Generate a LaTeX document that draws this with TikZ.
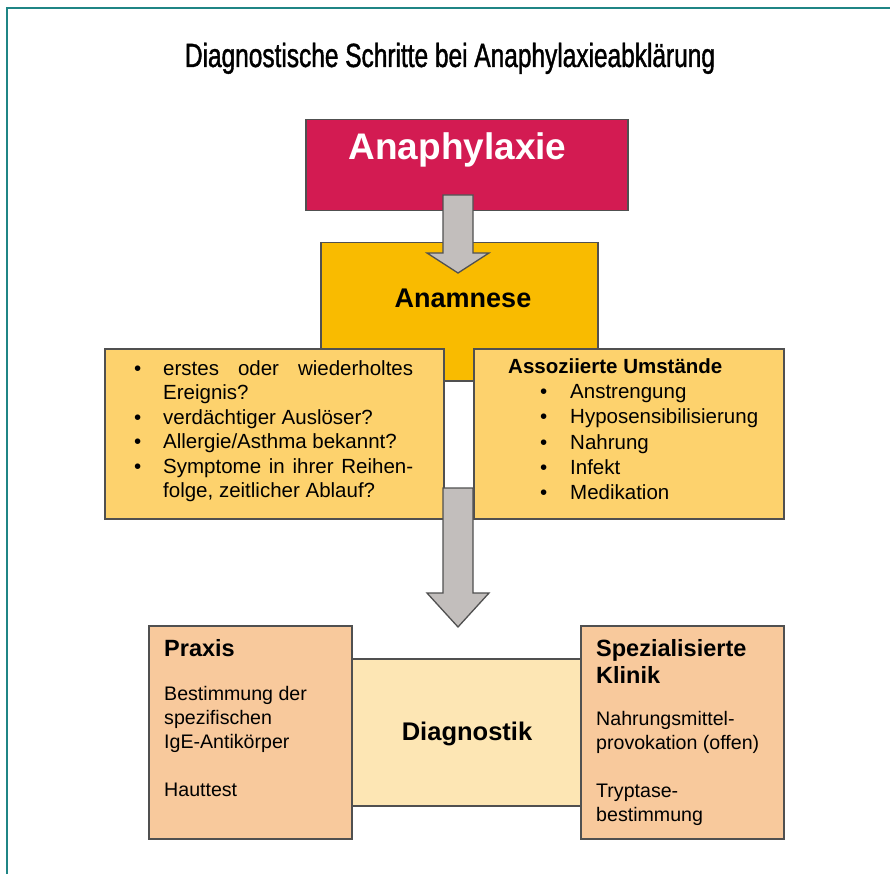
\documentclass[tikz,border=0pt]{standalone}
\usepackage{fontspec}
\setmainfont{Liberation Sans}
\newfontfamily\titlefont[FakeStretch=0.73,FakeBold=1.2]{Liberation Sans}
\usepackage{array}
\usetikzlibrary{calc}

\definecolor{rahmen}{HTML}{1F8585}
\definecolor{karmin}{HTML}{D31B52}
\definecolor{gelb}{HTML}{F9BB00}
\definecolor{hellgelb}{HTML}{FDD26D}
\definecolor{pfirsich}{HTML}{F8C99C}
\definecolor{creme}{HTML}{FDE6B4}
\definecolor{grau}{HTML}{C2BEBC}
\definecolor{kante}{HTML}{505050}

% block arrow: start, tip, head length
\newcommand\blockpfeil[3]{%
  \draw[pfeil] ($(#1)+(-15,0)$) -- ($(#1)+(15,0)$) -- ($(#2)+(15,-#3)$)
    -- ($(#2)+(31,-#3)$) -- (#2) -- ($(#2)+(-31,-#3)$) -- ($(#2)+(-15,-#3)$) -- cycle;}

\begin{document}
\begin{tikzpicture}[x=1pt, y=-1pt,
  kasten/.style={rectangle, draw=kante, line width=1.5pt, inner sep=0pt,
                 anchor=north west},
  txt/.style={inner sep=0pt, anchor=north west},
  pfeil/.style={fill=grau, draw=kante, line width=1.3pt, line join=miter}
]
\useasboundingbox (0,0) rectangle (890,874);
\fill[white] (0,0) rectangle (890,874);
\draw[rahmen, line width=2pt] (7,874) -- (7,8) -- (890,8);

\node[font=\titlefont\fontsize{33.5}{40}\selectfont, anchor=base] (titel)
  at (450,67) {Diagnostische Schritte bei Anaphylaxieabklärung};

% boxes
\node[kasten, fill=karmin, minimum width=322, minimum height=91] (anaph) at (305,119) {};
\node[kasten, fill=gelb, minimum width=277, minimum height=138] (anam) at (320,242) {};
\node[kasten, fill=hellgelb, minimum width=339, minimum height=170] (fragen) at (104,348) {};
\node[kasten, fill=hellgelb, minimum width=310, minimum height=170] (umst) at (473,348) {};
\node[kasten, fill=creme, minimum width=229, minimum height=147] (diag) at (351,658) {};
\node[kasten, fill=pfirsich, minimum width=203, minimum height=213] (praxis) at (148,625) {};
\node[kasten, fill=pfirsich, minimum width=203, minimum height=213] (klinik) at (580,625) {};

\node[white, font=\bfseries\fontsize{37}{44}\selectfont, anchor=base] (anaph-t)
  at (457.5,160) {Anaphylaxie};
\node[font=\bfseries\fontsize{27}{32}\selectfont, anchor=base] (anam-t)
  at (463,307) {Anamnese};
\node[font=\bfseries\fontsize{25.5}{30}\selectfont, anchor=base] (diag-t)
  at (467,740) {Diagnostik};

% lists
\node[txt, font=\fontsize{20.5}{24.4}\selectfont] (fragen-t) at (134,358.2) {%
  \begin{tabular}{@{}p{29pt}@{}p{250pt}@{}}
  \textbullet & erstes oder wiederholtes\linebreak Ereignis?\\
  \textbullet & verdächtiger Auslöser?\\
  \textbullet & Allergie/Asthma bekannt?\\
  \textbullet & Symptome in ihrer Reihen-\linebreak folge, zeitlicher Ablauf?
  \end{tabular}};
\node[txt, font=\fontsize{20.5}{25.2}\selectfont] (umst-t) at (508,355.7) {%
  \begin{tabular}{@{}p{62pt}@{}l@{}}
  \multicolumn{2}{@{}l@{}}{\bfseries Assoziierte Umstände}\\
  \hspace{32pt}\textbullet & Anstrengung\\
  \hspace{32pt}\textbullet & Hyposensibilisierung\\
  \hspace{32pt}\textbullet & Nahrung\\
  \hspace{32pt}\textbullet & Infekt\\
  \hspace{32pt}\textbullet & Medikation
  \end{tabular}};

% bottom texts
\node[txt, font=\fontsize{19.6}{24}\selectfont] (praxis-t) at (164,639.2) {%
  \begin{tabular}{@{}l@{}}
  {\fontsize{23.5}{24}\bfseries Praxis}\\[20pt]
  Bestimmung der\\
  spezifischen\\
  IgE-Antikörper\\[24pt]
  Hauttest
  \end{tabular}};
\node[txt, font=\fontsize{19.6}{24}\selectfont] (klinik-t) at (596,639.2) {%
  \begin{tabular}{@{}l@{}}
  {\fontsize{23.5}{24}\bfseries Spezialisierte}\\[3pt]
  {\fontsize{23.5}{24}\bfseries Klinik}\\[18pt]
  Nahrungsmittel-\\
  provokation (offen)\\[24pt]
  Tryptase-\\
  bestimmung
  \end{tabular}};

% arrows
\coordinate (p1a) at (458,195);
\coordinate (p1b) at (458,273);
\coordinate (p2a) at (458,488);
\coordinate (p2b) at (458,627);
\blockpfeil{p1a}{p1b}{20}
\blockpfeil{p2a}{p2b}{34}
\end{tikzpicture}
\end{document}
